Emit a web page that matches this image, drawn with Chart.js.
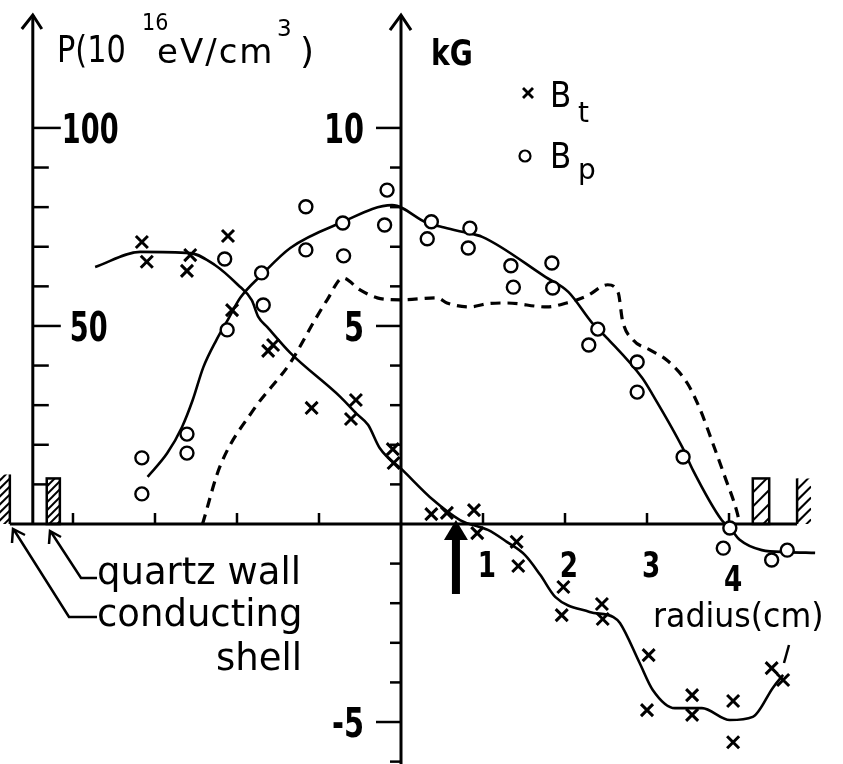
<!DOCTYPE html>
<html>
<head>
<meta charset="utf-8">
<script src="https://cdn.jsdelivr.net/npm/chart.js@4.4.0/dist/chart.umd.min.js"></script>
<style>
  html, body { margin: 0; padding: 0; background: #fff; }
  canvas { display: block; }
</style>
</head>
<body>
<canvas id="fieldChart" width="843" height="764"></canvas>
<script>
// toroidal field B_t, measured points (radius in cm, field in kG)
let btRadius = [-3.16, -3.10, -2.57, -2.61, -2.11, -2.06, -1.56, -1.62, -1.09, -0.55, -0.61, -0.10, -0.09,
    0.37, 0.56, 0.89, 0.93, 1.41, 1.43, 1.98, 1.96, 2.45, 2.46, 3.02, 3.00, 3.55, 3.55, 4.05, 4.05, 4.52, 4.66];
let btField = [7.12, 6.62, 6.79, 6.39, 7.27, 5.40, 4.52, 4.37, 2.93, 3.13, 2.65, 1.89, 1.54,
    0.25, 0.28, 0.35, -0.23, -0.45, -1.06, -1.59, -2.30, -2.02, -2.40, -3.31, -4.70, -4.32, -4.82, -4.47, -5.51, -3.64, -3.94];

// poloidal field B_p, measured points
let bpRadius = [-3.16, -3.16, -2.61, -2.61, -2.12, -2.15, -1.70, -1.68, -1.16, -1.16, -0.71, -0.70, -0.17, -0.20,
    0.37, 0.32, 0.84, 0.82, 1.34, 1.37, 1.84, 1.85, 2.40, 2.29, 2.88, 2.88, 3.44, 4.01, 3.93, 4.52, 4.71];
let bpField = [1.67, 0.76, 2.27, 1.79, 4.90, 6.69, 6.34, 5.53, 8.01, 6.92, 7.60, 6.77, 8.43, 7.55,
    7.63, 7.20, 7.47, 6.97, 6.52, 5.98, 6.59, 5.96, 4.92, 4.52, 4.09, 3.33, 1.69, -0.10, -0.61, -0.91, -0.66];

// hand-fitted curves through the points
let btCurveRadius = [-3.73, -3.18, -2.57, -2.27, -1.99, -1.82, -1.74, -1.63, -1.35, -0.74, -0.54, -0.40, -0.26, 0.02, 0.39, 0.72,
    1.06, 1.29, 1.51, 1.70, 1.88, 2.30, 2.59, 2.67, 2.91, 3.07, 3.34, 3.67, 4.01, 4.29, 4.54, 4.66];
let btCurveField = [6.49, 6.87, 6.84, 6.54, 6.04, 5.65, 5.23, 4.97, 4.32, 3.21, 2.78, 2.50, 1.92, 1.36, 0.61, 0.10,
    -0.15, -0.45, -0.78, -1.29, -1.84, -2.22, -2.35, -2.50, -3.51, -4.19, -4.65, -4.65, -4.95, -4.87, -4.12, -3.81];

let bpCurveRadius = [-3.09, -2.85, -2.67, -2.54, -2.41, -2.25, -2.10, -1.96, -1.70, -1.35, -0.74, -0.11, 0.32, 0.50, 0.76, 0.99,
    1.76, 2.04, 2.33, 2.51, 2.94, 3.07, 3.43, 3.56, 3.91, 4.01, 4.13, 4.40, 4.71, 5.05];
let bpCurveField = [1.19, 1.79, 2.45, 3.13, 3.96, 4.65, 5.20, 5.71, 6.29, 6.97, 7.60, 8.05, 7.60, 7.50, 7.37, 7.25,
    6.24, 5.86, 5.08, 4.70, 3.69, 3.26, 1.94, 1.36, 0.10, -0.10, -0.40, -0.66, -0.71, -0.73];

// plasma pressure P (10^16 eV/cm^3), dashed
let pressureRadius = [-2.42, -2.21, -1.80, -1.35, -1.05, -0.90, -0.71, -0.50, -0.29, 0.00, 0.44, 0.56, 0.84, 1.05, 1.29,
    1.78, 2.02, 2.27, 2.52, 2.65, 2.70, 2.83, 3.04, 3.24, 3.49, 3.65, 3.80, 3.95, 4.10, 4.13];
let pressureValue = [0, 14.4, 28.8, 40.7, 51.5, 56.6, 62.1, 59.1, 57.1, 56.6, 57.1, 55.8, 54.8, 55.6, 55.8,
    54.8, 55.8, 57.6, 60.4, 58.3, 51.5, 46.5, 43.9, 41.4, 35.6, 28.8, 20.5, 11.9, 2.8, 0];

// axis ticks and their labels
let fieldTicks = [-6, -5, -4, -3, -2, -1, 1, 2, 3, 4, 5, 6, 7, 8, 9, 10];
let fieldLabelTicks = [10, 5, -5];
let fieldLabels = ['10', '5', '-5'];
let pressureTicks = [10, 20, 30, 40, 50, 60, 70, 80, 90, 100];
let pressureLabelTicks = [100, 50];
let pressureLabels = ['100', '50'];
let radiusTicks = [-4, -3, -2, -1, 1, 2, 3, 4];
let radiusLabelTicks = [1, 2, 3, 4];
let radiusLabels = ['1', '2', '3', '4'];

// wall positions (cm)
const quartzLeft = [-4.32, -4.16];
const quartzRight = [4.29, 4.49];
const shellLeft = -4.77;
const shellRight = 4.83;
const pressureAxisAt = -4.49;
const arrowAt = 0.67;

function toPoints(xs, ys) {
    return xs.map((x, i) => ({ x: x, y: ys[i] }));
}

function drawText(ctx, text, x, y, size, opts) {
    opts = opts || {};
    ctx.save();
    ctx.font = (opts.bold ? 'bold ' : '') + size + 'px "DejaVu Sans"';
    ctx.textAlign = opts.align || 'left';
    ctx.textBaseline = 'alphabetic';
    ctx.fillStyle = '#000';
    if (opts.spacing) ctx.letterSpacing = opts.spacing + 'px';
    ctx.translate(x, y);
    ctx.scale(opts.squeeze || 1, 1);
    ctx.fillText(text, 0, 0);
    ctx.restore();
}

function line(ctx, pts, width) {
    ctx.lineWidth = width;
    ctx.beginPath();
    ctx.moveTo(pts[0][0], pts[0][1]);
    for (let i = 1; i < pts.length; i++) ctx.lineTo(pts[i][0], pts[i][1]);
    ctx.stroke();
}

function hatch(ctx, x0, y0, x1, y1, gap) {
    ctx.save();
    ctx.beginPath();
    ctx.rect(x0, y0, x1 - x0, y1 - y0);
    ctx.clip();
    ctx.lineWidth = 2;
    for (let y = y0 - (x1 - x0); y < y1 + gap; y += gap) {
        ctx.beginPath();
        ctx.moveTo(x0, y + (x1 - x0));
        ctx.lineTo(x1, y);
        ctx.stroke();
    }
    ctx.restore();
}

const axesPlugin = {
    id: 'axesPlugin',
    beforeDatasetsDraw(chart) {
        let ctx = chart.ctx;
        let xs = chart.scales.x, ys = chart.scales.y, ps = chart.scales.p;
        let y0 = ys.getPixelForValue(0);
        let x0 = xs.getPixelForValue(0);
        let xp = xs.getPixelForValue(pressureAxisAt);
        let top = ys.getPixelForValue(12.85);
        ctx.save();
        ctx.strokeStyle = '#000';
        ctx.fillStyle = '#000';
        ctx.lineCap = 'butt';

        // radius axis
        line(ctx, [[xs.getPixelForValue(shellLeft), y0], [xs.getPixelForValue(shellRight), y0]], 3);
        radiusTicks.forEach(v => {
            let x = xs.getPixelForValue(v);
            line(ctx, [[x, y0], [x, y0 - 11]], 2.5);
        });

        // field axis (kG)
        line(ctx, [[x0, top], [x0, chart.height]], 3);
        line(ctx, [[x0 - 11, top + 15], [x0, top], [x0 + 10, top + 15]], 3);
        fieldTicks.forEach(v => {
            let y = ys.getPixelForValue(v);
            let len = fieldLabelTicks.includes(v) ? 25 : 11;
            line(ctx, [[x0, y], [x0 - len, y]], 2.5);
        });

        // pressure axis
        line(ctx, [[xp, top], [xp, y0]], 3);
        line(ctx, [[xp - 11, top + 14], [xp, top], [xp + 9, top + 14]], 3);
        pressureTicks.forEach(v => {
            let y = ps.getPixelForValue(v);
            let len = pressureLabelTicks.includes(v) ? 28 : 16;
            line(ctx, [[xp, y], [xp + len, y]], 2.5);
        });

        // walls
        let wallTop = ys.getPixelForValue(1.15);
        let qa = xs.getPixelForValue(quartzLeft[0]), qb = xs.getPixelForValue(quartzLeft[1]);
        ctx.lineWidth = 2.5;
        ctx.strokeRect(qa, wallTop, qb - qa, y0 - wallTop);
        hatch(ctx, qa, wallTop, qb, y0, 8);
        qa = xs.getPixelForValue(quartzRight[0]); qb = xs.getPixelForValue(quartzRight[1]);
        ctx.strokeRect(qa, wallTop, qb - qa, y0 - wallTop);
        hatch(ctx, qa, wallTop, qb, y0, 14);
        let sl = xs.getPixelForValue(shellLeft);
        line(ctx, [[sl, wallTop - 4], [sl, y0]], 2.5);
        hatch(ctx, sl - 12, wallTop - 4, sl, y0, 8);
        let sr = xs.getPixelForValue(shellRight);
        line(ctx, [[sr, wallTop], [sr, y0]], 2.5);
        hatch(ctx, sr, wallTop, sr + 14, y0, 11);

        // heavy arrow under the axis
        let xa = xs.getPixelForValue(arrowAt);
        ctx.fillRect(xa - 4, y0 + 12, 8, 58);
        ctx.beginPath();
        ctx.moveTo(xa, y0 - 4);
        ctx.lineTo(xa - 12, y0 + 16);
        ctx.lineTo(xa + 12, y0 + 16);
        ctx.closePath();
        ctx.fill();
        ctx.restore();
    },
    afterDatasetsDraw(chart) {
        let ctx = chart.ctx;
        let xs = chart.scales.x, ys = chart.scales.y, ps = chart.scales.p;
        let x0 = xs.getPixelForValue(0);
        let xp = xs.getPixelForValue(pressureAxisAt);
        let y0 = ys.getPixelForValue(0);
        ctx.save();
        ctx.strokeStyle = '#000';

        // tick labels
        fieldLabelTicks.forEach((v, i) => {
            drawText(ctx, fieldLabels[i], x0 - 37, ys.getPixelForValue(v) + 15, 40, { bold: true, align: 'right', squeeze: 0.72 });
        });
        pressureLabelTicks.forEach((v, i) => {
            drawText(ctx, pressureLabels[i], xp + (v === 50 ? 37 : 29), ps.getPixelForValue(v) + 15, 40, { bold: true, squeeze: 0.68 });
        });
        radiusLabelTicks.forEach((v, i) => {
            let y = v === 4 ? y0 + 67 : y0 + 53;
            drawText(ctx, radiusLabels[i], xs.getPixelForValue(v) + 4, y, 35, { bold: true, align: 'center', squeeze: 0.75 });
        });

        // axis titles
        drawText(ctx, 'P(10', 57, 62, 38, { squeeze: 0.8 });
        drawText(ctx, '16', 142, 30, 23, { squeeze: 0.9 });
        drawText(ctx, 'eV/cm', 157, 63, 34, { spacing: 2 });
        drawText(ctx, '3', 277, 36, 23);
        drawText(ctx, ')', 300, 63, 36);
        drawText(ctx, 'kG', 431, 65, 36, { bold: true, squeeze: 0.78 });

        // legend
        line(ctx, [[523, 88], [533, 98]], 2.8);
        line(ctx, [[533, 88], [523, 98]], 2.8);
        drawText(ctx, 'B', 550, 107, 36, { squeeze: 0.86 });
        drawText(ctx, 't', 578, 122, 28);
        ctx.beginPath();
        ctx.arc(525, 156, 5.5, 0, Math.PI * 2);
        ctx.lineWidth = 2.2;
        ctx.stroke();
        drawText(ctx, 'B', 550, 168, 36, { squeeze: 0.86 });
        drawText(ctx, 'p', 578, 179, 28);

        // wall annotations
        drawText(ctx, 'quartz wall', 97, 584, 37);
        drawText(ctx, 'conducting', 97, 626, 37);
        drawText(ctx, 'shell', 216, 670, 37);
        line(ctx, [[97, 578], [81, 578], [51, 532]], 2.5);
        line(ctx, [[49, 544], [50, 531], [61, 537]], 2.5);
        line(ctx, [[97, 617], [69, 617], [14, 530]], 2.5);
        line(ctx, [[12, 543], [13, 529], [25, 535]], 2.5);
        drawText(ctx, 'radius(cm)', 653, 627, 34, { squeeze: 0.93 });
        line(ctx, [[789, 645], [784, 663]], 2.5);
        ctx.restore();
    }
};

let ctx = document.getElementById('fieldChart').getContext('2d');
new Chart(ctx, {
    type: 'scatter',
    data: {
        datasets: [
            {
                label: 'Bt',
                data: toPoints(btRadius, btField),
                pointStyle: 'crossRot',
                pointRadius: 8.5,
                borderColor: '#000',
                borderWidth: 3,
                order: 0,
                clip: false
            },
            {
                label: 'Bp',
                data: toPoints(bpRadius, bpField),
                pointStyle: 'circle',
                pointRadius: 6.5,
                borderColor: '#000',
                backgroundColor: '#fff',
                borderWidth: 2.4,
                order: 0,
                clip: false
            },
            {
                type: 'line',
                label: 'Bt fit',
                data: toPoints(btCurveRadius, btCurveField),
                borderColor: '#000',
                borderWidth: 2.6,
                pointRadius: 0,
                fill: false,
                cubicInterpolationMode: 'monotone',
                order: 1
            },
            {
                type: 'line',
                label: 'Bp fit',
                data: toPoints(bpCurveRadius, bpCurveField),
                borderColor: '#000',
                borderWidth: 2.6,
                pointRadius: 0,
                fill: false,
                cubicInterpolationMode: 'monotone',
                order: 1
            },
            {
                type: 'line',
                label: 'P',
                yAxisID: 'p',
                data: toPoints(pressureRadius, pressureValue),
                borderColor: '#000',
                borderWidth: 3.2,
                borderDash: [10, 7],
                pointRadius: 0,
                fill: false,
                cubicInterpolationMode: 'monotone',
                order: 1
            }
        ]
    },
    options: {
        responsive: false,
        devicePixelRatio: 1,
        animation: false,
        layout: { padding: 0, autoPadding: false },
        plugins: {
            legend: { display: false },
            tooltip: { enabled: false }
        },
        scales: {
            x: { type: 'linear', display: false, min: -4.89, max: 5.39 },
            y: { type: 'linear', display: false, min: -6.06, max: 13.23 },
            p: { type: 'linear', display: false, position: 'left', min: -60.6, max: 132.3 }
        }
    },
    plugins: [axesPlugin]
});
</script>
</body>
</html>
